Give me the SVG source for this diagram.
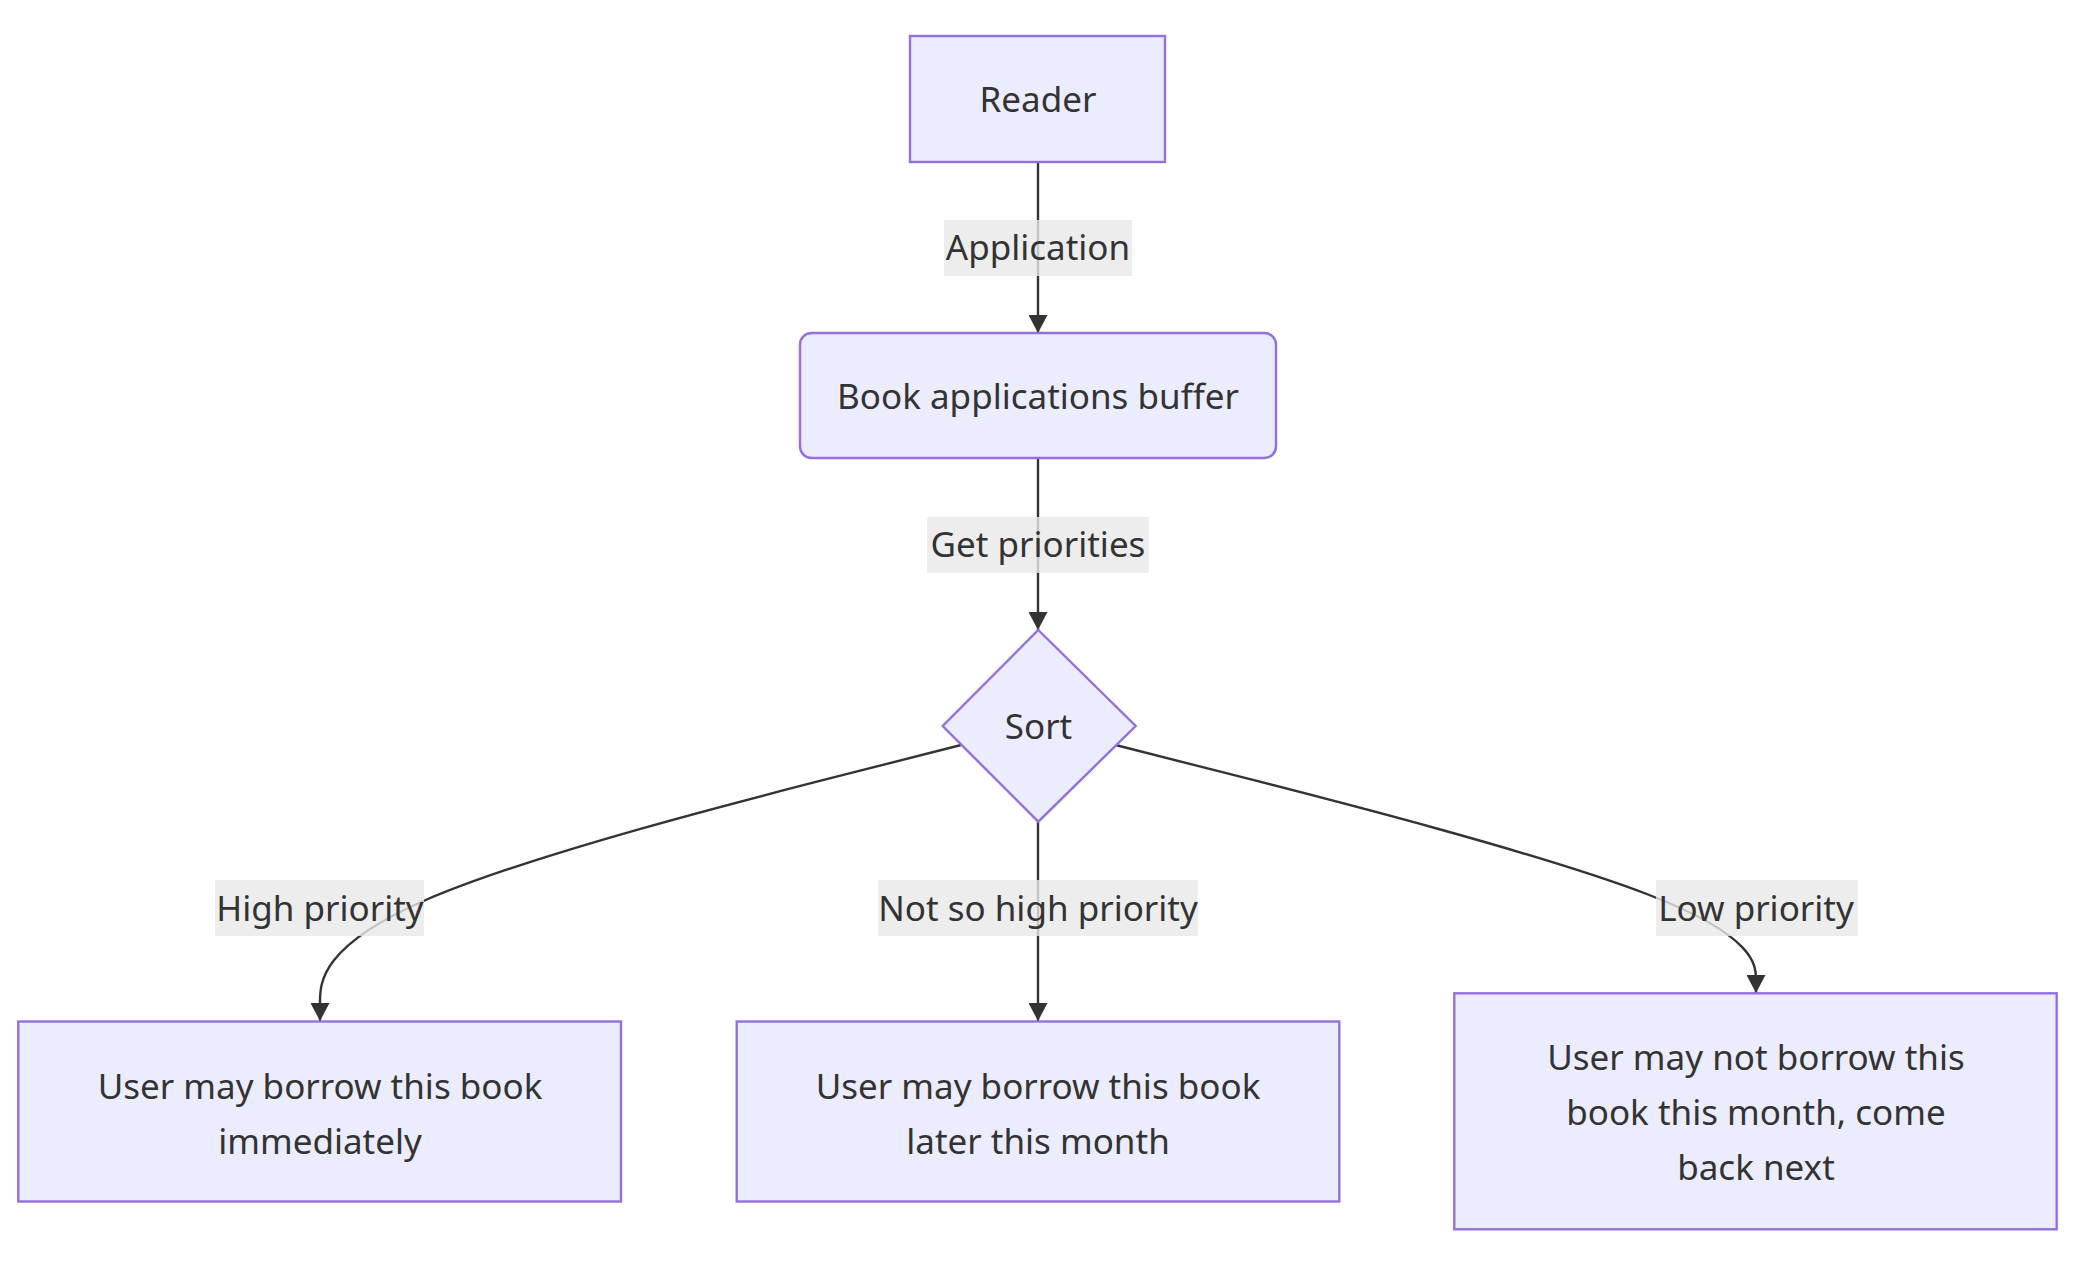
<svg xmlns="http://www.w3.org/2000/svg" width="2076" height="1267" viewBox="0 0 2076 1267">
<style>
.node rect, .node polygon { fill: #ECECFF; stroke: #9370DB; stroke-width: 2.4; }
.edge { fill: none; stroke: #333333; stroke-width: 2.4; }
.lbl rect { fill: rgba(232,232,232,0.8); }
text { font-family: "Noto Sans", "Open Sans", "DejaVu Sans", sans-serif; font-size: 35px; fill: #333333; text-anchor: middle; }
</style>
<defs>
<marker id="arrow" markerUnits="userSpaceOnUse" viewBox="0 0 18 19" refX="18" refY="9.5" markerWidth="18" markerHeight="19" orient="auto">
<path d="M0,0 L18,9.5 L0,19 z" fill="#333333"/>
</marker>
</defs>
<rect width="2076" height="1267" fill="#ffffff"/>
<g id="connectors">
<path class="edge" d="M1038,162 L1038,333" marker-end="url(#arrow)"/>
<path class="edge" d="M1038,458 L1038,630" marker-end="url(#arrow)"/>
<path class="edge" d="M961,745 L854.2,772.2 C747.3,799.3 533.7,853.7 426.8,899.5 C320,945.7 320,983.3 320,1002.2 L320,1021" marker-end="url(#arrow)"/>
<path class="edge" d="M1038,822 L1038,1021" marker-end="url(#arrow)"/>
<path class="edge" d="M1115.6,745 L1222.4,772.2 C1329.2,799.3 1542.5,853.7 1649.3,895 C1756,936.3 1756,966 1756,979.2 L1756,993" marker-end="url(#arrow)"/>
</g>
<g id="edge-labels">
<g class="lbl" id="label-application"><rect x="944" y="220" width="188" height="56"/><text x="1038" y="259.5">Application</text></g>
<g class="lbl" id="label-get-priorities"><rect x="927" y="517" width="222" height="56"/><text x="1038" y="556.5">Get priorities</text></g>
<g class="lbl" id="label-high"><rect x="215" y="880" width="209" height="56"/><text x="320" y="920.5">High priority</text></g>
<g class="lbl" id="label-notsohigh"><rect x="878" y="880" width="320" height="56"/><text x="1038" y="920.5">Not so high priority</text></g>
<g class="lbl" id="label-low"><rect x="1656" y="880" width="202" height="56"/><text x="1756" y="920.5">Low priority</text></g>
</g>
<g class="node" id="node-reader"><rect x="910" y="36" width="255" height="126"/><text x="1038" y="111.5">Reader</text></g>
<g class="node" id="node-buffer"><rect x="800" y="333" width="476" height="125" rx="11.6" ry="11.6"/><text x="1038" y="408.5">Book applications buffer</text></g>
<g class="node" id="node-sort"><polygon points="1038.3,630 1135.7,726 1038.3,821.7 942.7,726"/><text x="1038.5" y="738.5">Sort</text></g>
<g class="node" id="node-immediately"><rect x="18.3" y="1021.5" width="602.7" height="180"/><text x="320" y="1098.5">User may borrow this book</text><text x="320" y="1153.5">immediately</text></g>
<g class="node" id="node-later"><rect x="736.7" y="1021.5" width="602.6" height="180"/><text x="1038" y="1098.5">User may borrow this book</text><text x="1038" y="1153.5">later this month</text></g>
<g class="node" id="node-next"><rect x="1454.3" y="993.3" width="602.4" height="236"/><text x="1756" y="1069.5">User may not borrow this</text><text x="1756" y="1124.5">book this month, come</text><text x="1756" y="1179.5">back next</text></g>
</svg>
